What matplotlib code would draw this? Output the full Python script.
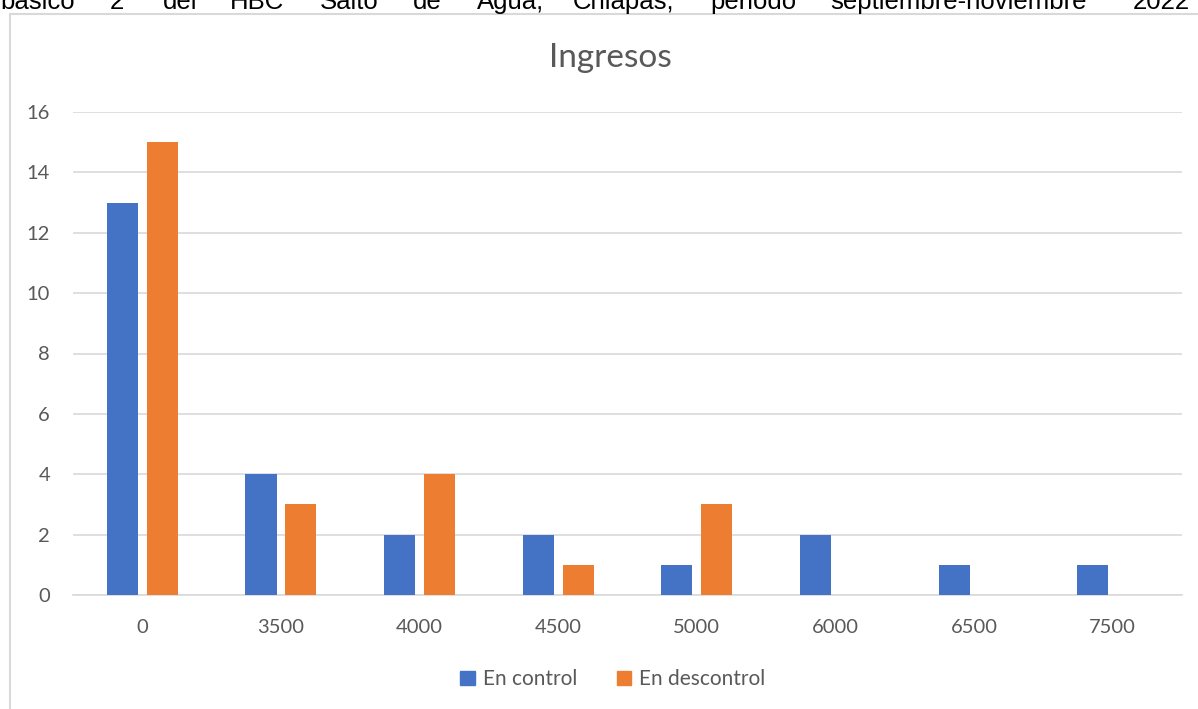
import numpy as np
import matplotlib.pyplot as plt
from matplotlib.patches import Rectangle, Patch

# Ingresos por grupo de control
categorias = ['0', '3500', '4000', '4500', '5000', '6000', '6500', '7500']
en_control = [13, 4, 2, 2, 1, 2, 1, 1]
en_descontrol = [15, 3, 4, 1, 3, 0, 0, 0]
series = ['En control', 'En descontrol']
titulo = 'Ingresos'
yticks = [0, 2, 4, 6, 8, 10, 12, 14, 16]

# Línea del documento que queda cortada arriba
palabras = ['básico', '2', 'del', 'HBC', 'Salto', 'de', 'Agua,', 'Chiapas,',
            'periodo', 'septiembre-noviembre', '2022']
pos_palabras = [0, 110, 163, 230, 320, 413, 477, 573, 710, 830, 1133]

azul = '#4472C4'
naranja = '#ED7D31'
gris_texto = '#595959'
gris_linea = '#D9D9D9'

W, H = 1198, 709
fig = plt.figure(figsize=(W / 100, H / 100), dpi=100)
fig.patch.set_facecolor('white')

# marco del gráfico
fig.patches.append(Rectangle((9.5 / W, -0.1), 1.2, 1.1 - 14 / H,
                             transform=fig.transFigure, fill=False,
                             edgecolor=gris_linea, linewidth=1.5))

for p, x in zip(palabras, pos_palabras):
    fig.text(x / W, 1 - 9 / H, p, fontsize=18.5, family='Liberation Sans',
             color='black', ha='left', va='baseline')

ax = fig.add_axes([73 / W, 114 / H, 1109 / W, 483 / H])
x = np.arange(len(categorias))
ancho = 0.224
ax.bar(x - 0.144, en_control, ancho, color=azul, zorder=3)
ax.bar(x + 0.144, en_descontrol, ancho, color=naranja, zorder=3)

ax.set_xlim(-0.5, len(categorias) - 0.5)
ax.set_ylim(0, 16)
ax.set_yticks(yticks)
ax.set_xticks(x)
ax.set_xticklabels(categorias)
ax.grid(axis='y', color=gris_linea, linewidth=1.2, zorder=0)
for s in ['top', 'right', 'left']:
    ax.spines[s].set_visible(False)
ax.spines['bottom'].set_color(gris_linea)
ax.spines['bottom'].set_linewidth(1.2)
ax.tick_params(length=0, labelsize=14.5, labelcolor=gris_texto)
ax.tick_params(axis='y', pad=16.5)
ax.tick_params(axis='x', pad=17)
for t in ax.get_xticklabels() + ax.get_yticklabels():
    t.set_family('Lato')

fig.text(610 / W, 1 - 67 / H, titulo, fontsize=24, family='Lato',
         color=gris_texto, ha='center', va='baseline')

handles = [Patch(color=azul), Patch(color=naranja)]
fig.legend(handles, series, loc='center', bbox_to_anchor=(613 / W, 1 - 679 / H),
           ncol=2, frameon=False, handlelength=0.68, handleheight=0.68,
           handletextpad=0.4, columnspacing=1.9,
           prop={'family': 'Lato', 'size': 15}, labelcolor=gris_texto)

fig.savefig('out.png', dpi=100)
